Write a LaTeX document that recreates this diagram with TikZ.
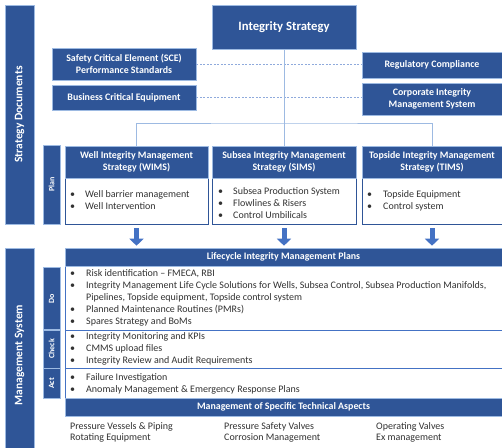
\documentclass[tikz,border=0pt]{standalone}
\usepackage{fontspec}
\setmainfont{Carlito}
\usetikzlibrary{arrows.meta}
\definecolor{dblue}{RGB}{47,85,151}
\definecolor{mblue}{RGB}{68,114,196}
\definecolor{lblue}{RGB}{157,186,226}
\definecolor{txt}{RGB}{50,50,50}
\newcommand{\bl}{\textbullet &}

\begin{document}
\begin{tikzpicture}[x=1pt,y=-1pt,
  hdr/.style={draw=lblue,line width=0.6pt,fill=dblue,text=white,inner sep=0pt,align=center,font=\bfseries\fontsize{9.9}{11.5}\selectfont},
  bar/.style={hdr,rotate=90},
  body/.style={draw=dblue,line width=0.8pt,fill=white,inner sep=0pt},
  panel/.style={draw=mblue,line width=0.8pt,fill=white,inner sep=0pt,minimum width=437pt},
  list/.style={anchor=north west,inner sep=0pt,text=txt,font=\fontsize{10}{12}\selectfont},
  conn/.style={draw=lblue,line width=0.9pt},
  link/.style={draw=mblue!60,line width=0.5pt,dash pattern=on 2pt off 1.5pt},
  arr/.style={draw=mblue,line width=5pt,-{Triangle[length=7pt,width=14pt]}}]
\useasboundingbox (0,0) rectangle (502,447);

\node[bar,minimum width=219pt,minimum height=29pt,font=\bfseries\fontsize{11.5}{13}\selectfont] (sdbar) at (19.5,114.5) {Strategy Documents};
\node[bar,minimum width=214pt,minimum height=29pt,font=\bfseries\fontsize{11.5}{13}\selectfont] (msbar) at (19.5,355) {Management System};

\node[hdr,minimum width=144pt,minimum height=44pt,font=\bfseries\fontsize{12.7}{14}\selectfont] (integ) at (284,27) {Integrity Strategy};
\node[hdr,minimum width=144pt,minimum height=32pt] (sce) at (124,64) {Safety Critical Element (SCE)\\Performance Standards};
\node[hdr,minimum width=144pt,minimum height=25pt] (bce) at (124,97.5) {Business Critical Equipment};
\node[hdr,minimum width=140pt,minimum height=26pt] (reg) at (432,65) {Regulatory Compliance};
\node[hdr,minimum width=140pt,minimum height=32pt] (cims) at (432,99) {Corporate Integrity\\Management System};

\draw[link] (sce.east) -- (sce.east -| reg.west);
\draw[link] (bce.east) -- (bce.east -| cims.west);

\node[bar,minimum width=79pt,minimum height=17pt,font=\bfseries\fontsize{8}{9}\selectfont] (planbar) at (51.5,184.5) {Plan};

\node[body,minimum width=143pt,minimum height=46pt] (wimsb) at (136.5,201) {};
\node[body,minimum width=144pt,minimum height=46pt] (simsb) at (284,201) {};
\node[body,minimum width=140pt,minimum height=46pt] (timsb) at (432,201) {};
\node[hdr,minimum width=143pt,minimum height=32pt] (wimsh) at (136.5,162) {Well Integrity Management\\Strategy (WIMS)};
\node[hdr,minimum width=144pt,minimum height=32pt] (simsh) at (284,162) {Subsea Integrity Management\\Strategy (SIMS)};
\node[hdr,minimum width=140pt,minimum height=32pt] (timsh) at (432,162) {Topside Integrity Management\\Strategy (TIMS)};

\coordinate (split) at (284,123);
\draw[conn] (integ.south) -- (simsh.north);
\draw[conn] (wimsh.north) |- (split) -| (timsh.north);

\node[list] (wimsl) at (70,189) {\begin{tabular}{@{}p{15pt}@{}l@{}}\bl Well barrier management\\ \bl Well Intervention\end{tabular}};
\node[list] (simsl) at (218,186) {\begin{tabular}{@{}p{15pt}@{}l@{}}\bl Subsea Production System\\ \bl Flowlines \& Risers\\ \bl Control Umbilicals\end{tabular}};
\node[list] (timsl) at (367,189) {\begin{tabular}{@{}p{16pt}@{}l@{}}\bl Topside Equipment\\ \bl Control system\end{tabular}};

\draw[arr,shorten <=4pt,shorten >=2pt] (wimsb.south) -- (wimsb.south |- msbar.east);
\draw[arr,shorten <=4pt,shorten >=2pt] (simsb.south) -- (simsb.south |- msbar.east);
\draw[arr,shorten <=4pt,shorten >=2pt] (timsb.south) -- (timsb.south |- msbar.east);

\node[panel,minimum height=64pt] (dop) at (283.5,298) {};
\node[panel,minimum height=38pt] (checkp) at (283.5,349) {};
\node[panel,minimum height=30pt] (actp) at (283.5,383) {};
\node[panel,minimum height=32pt,draw=none] (techp) at (283.5,432) {};
\node[hdr,minimum width=437pt,minimum height=18pt] (lmp) at (283.5,257) {Lifecycle Integrity Management Plans};
\node[hdr,minimum width=437pt,minimum height=18pt] (msta) at (283.5,407) {Management of Specific Technical Aspects};

\node[bar,minimum width=62pt,minimum height=17pt,font=\bfseries\fontsize{8}{9}\selectfont] (dobar) at (51.5,298.5) {Do};
\node[bar,minimum width=38pt,minimum height=17pt,font=\bfseries\fontsize{8}{9}\selectfont] (checkbar) at (51.5,349) {Check};
\node[bar,minimum width=30pt,minimum height=17pt,font=\bfseries\fontsize{8}{9}\selectfont] (actbar) at (51.5,383.5) {Act};

\node[list] (dol) at (70,268) {\begin{tabular}{@{}p{16pt}@{}l@{}}\bl Risk identification -- FMECA, RBI\\
 \bl Integrity Management Life Cycle Solutions for Wells, Subsea Control, Subsea Production Manifolds,\\
 & Pipelines, Topside equipment, Topside control system\\
 \bl Planned Maintenance Routines (PMRs)\\
 \bl Spares Strategy and BoMs\end{tabular}};
\node[list] (checkl) at (70,331) {\begin{tabular}{@{}p{16pt}@{}l@{}}\bl Integrity Monitoring and KPIs\\
 \bl CMMS upload files\\
 \bl Integrity Review and Audit Requirements\end{tabular}};
\node[list] (actl) at (70,372) {\begin{tabular}{@{}p{16pt}@{}l@{}}\bl Failure Investigation\\
 \bl Anomaly Management \& Emergency Response Plans\end{tabular}};
\node[list,font=\fontsize{10}{11.5}\selectfont] (techl) at (70,421) {\begin{tabular}{@{}p{154pt}@{}p{152pt}@{}l@{}}Pressure Vessels \& Piping & Pressure Safety Valves & Operating Valves\\
 Rotating Equipment & Corrosion Management & Ex management\end{tabular}};

\end{tikzpicture}
\end{document}
